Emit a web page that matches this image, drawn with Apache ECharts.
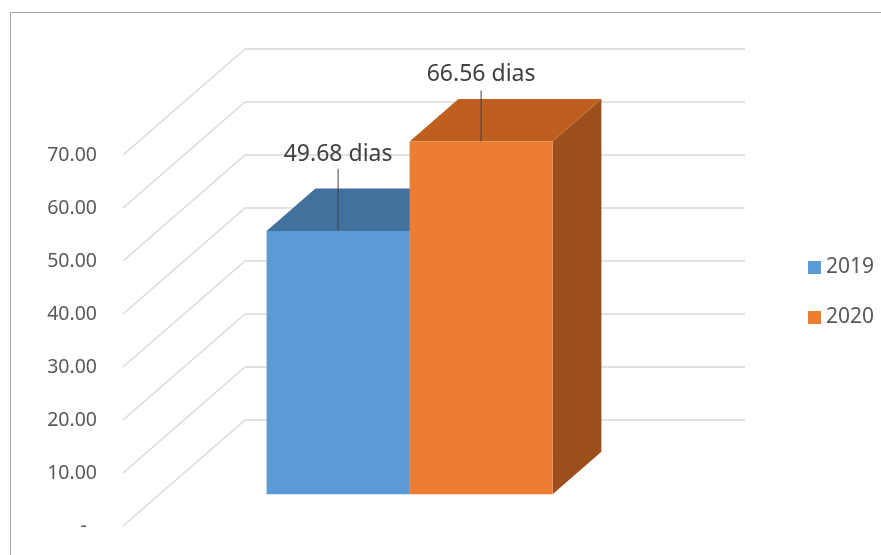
<!DOCTYPE html>
<html><head><meta charset="utf-8">
<script src="https://cdn.jsdelivr.net/npm/echarts@6/dist/echarts.min.js"></script>
<style>html,body{margin:0;padding:0;background:#fff}#c{width:881px;height:555px}</style>
</head><body><div id="c"></div>
<script>
// ---- data ----
const categories = ['Días'];
const seriesNames = ['2019', '2020'];
const values2019 = [49.68];
const values2020 = [66.56];
const yTicks = [0, 10, 20, 30, 40, 50, 60, 70];

// ---- style constants ----
const DX = 122, DY = 106;          // depth of the 3D box (px)
const FRONT = 0.3, DEPTH = 0.4;    // bar position inside the depth
const BAR_FRAC = 0.286;            // bar width / category band
const COLORS = [
  {front: '#5B9BD5', top: '#41719C', side: '#3A6591'},
  {front: '#ED7D31', top: '#BE5F1F', side: '#9C4E1B'}
];
const LABEL_LIFT = [[62, 76], [51, 67]]; // [leader length, text lift]
const FONT = 'Noto Sans';
const GRID_COLOR = '#D9D9D9';

const chart = echarts.init(document.getElementById('c'), null, {renderer: 'canvas'});

function barRender(si) {
  return function (params, api) {
    const cat = api.value(0), val = api.value(1);
    const base = api.coord([cat, 0]);
    const top = api.coord([cat, val]);
    const band = api.size([1, 0])[0];
    const bw = band * BAR_FRAC;
    const n = seriesNames.length;
    const x0 = base[0] - n * bw / 2 + si * bw + FRONT * DX;
    const x1 = x0 + bw;
    const yb = base[1] - FRONT * DY, yt = top[1] - FRONT * DY;
    const ddx = DEPTH * DX, ddy = DEPTH * DY;
    const c = COLORS[si];
    const cx = (x0 + x1) / 2;
    const lineLen = LABEL_LIFT[si][0], textLift = LABEL_LIFT[si][1];
    return {
      type: 'group', children: [
        {type: 'polygon', shape: {points: [[x1, yb], [x1 + ddx, yb - ddy], [x1 + ddx, yt - ddy], [x1, yt]]}, style: {fill: c.side}},
        {type: 'polygon', shape: {points: [[x0, yt], [x0 + ddx, yt - ddy], [x1 + ddx, yt - ddy], [x1, yt]]}, style: {fill: c.top}},
        {type: 'rect', shape: {x: x0, y: yt, width: bw, height: yb - yt}, style: {fill: c.front}},
        {type: 'line', shape: {x1: cx, y1: yt, x2: cx, y2: yt - lineLen}, style: {stroke: '#404040', lineWidth: 1}},
        {type: 'text', x: cx, y: yt - textLift, style: {text: val.toFixed(2) + ' dias', fill: '#404040', fontSize: 23, fontFamily: FONT, align: 'center', verticalAlign: 'middle'}}
      ]
    };
  };
}

const option = {
  backgroundColor: '#fff',
  animation: false,
  graphic: [{type: 'rect', x: 10.5, y: 12.5, shape: {width: 1000, height: 1000}, style: {fill: 'none', stroke: '#A6A6A6', lineWidth: 1}, z: -10}],
  legend: {
    data: seriesNames, orient: 'vertical', left: 803, top: 252,
    itemWidth: 13, itemHeight: 13, itemGap: 29, icon: 'rect',
    textStyle: {fontSize: 21, color: '#595959', fontFamily: FONT, lineHeight: 21}
  },
  grid: [
    {left: 123, top: 155, width: 500, height: 371},
    {left: 123 + DX, top: 155 - DY, width: 500, height: 371}
  ],
  xAxis: [
    {type: 'category', data: categories, gridIndex: 0, axisLine: {show: false}, axisTick: {show: false}, axisLabel: {show: false}},
    {type: 'category', data: categories, gridIndex: 1, axisLine: {show: false}, axisTick: {show: false}, axisLabel: {show: false}}
  ],
  yAxis: [
    {type: 'value', gridIndex: 0, min: 0, max: 70, interval: 10,
     axisLine: {show: false}, axisTick: {show: false}, splitLine: {show: false},
     axisLabel: {margin: 26, color: '#595959', fontSize: 19.5, fontFamily: FONT, padding: [6, 0, 0, 0],
       formatter: v => v === 0 ? '-  ' : v.toFixed(2)}},
    {type: 'value', gridIndex: 1, min: 0, max: 70, interval: 10,
     axisLine: {show: false}, axisTick: {show: false}, axisLabel: {show: false},
     splitLine: {show: true, lineStyle: {color: GRID_COLOR, width: 1.5}}}
  ],
  series: [
    {type: 'custom', name: '_grid', xAxisIndex: 0, yAxisIndex: 0, z: 1, silent: true,
     data: yTicks.map(v => [0, v]),
     renderItem: function (params, api) {
       const cs = params.coordSys;
       const y = api.coord([0, api.value(1)])[1];
       return {type: 'line', shape: {x1: cs.x, y1: y, x2: cs.x + DX, y2: y - DY}, style: {stroke: GRID_COLOR, lineWidth: 1.5}};
     }},
    {type: 'custom', name: seriesNames[0], xAxisIndex: 0, yAxisIndex: 0, z: 2,
     itemStyle: {color: COLORS[0].front},
     data: values2019.map((v, i) => [i, v]), renderItem: barRender(0)},
    {type: 'custom', name: seriesNames[1], xAxisIndex: 0, yAxisIndex: 0, z: 2,
     itemStyle: {color: COLORS[1].front},
     data: values2020.map((v, i) => [i, v]), renderItem: barRender(1)}
  ]
};
chart.setOption(option);
</script></body></html>
